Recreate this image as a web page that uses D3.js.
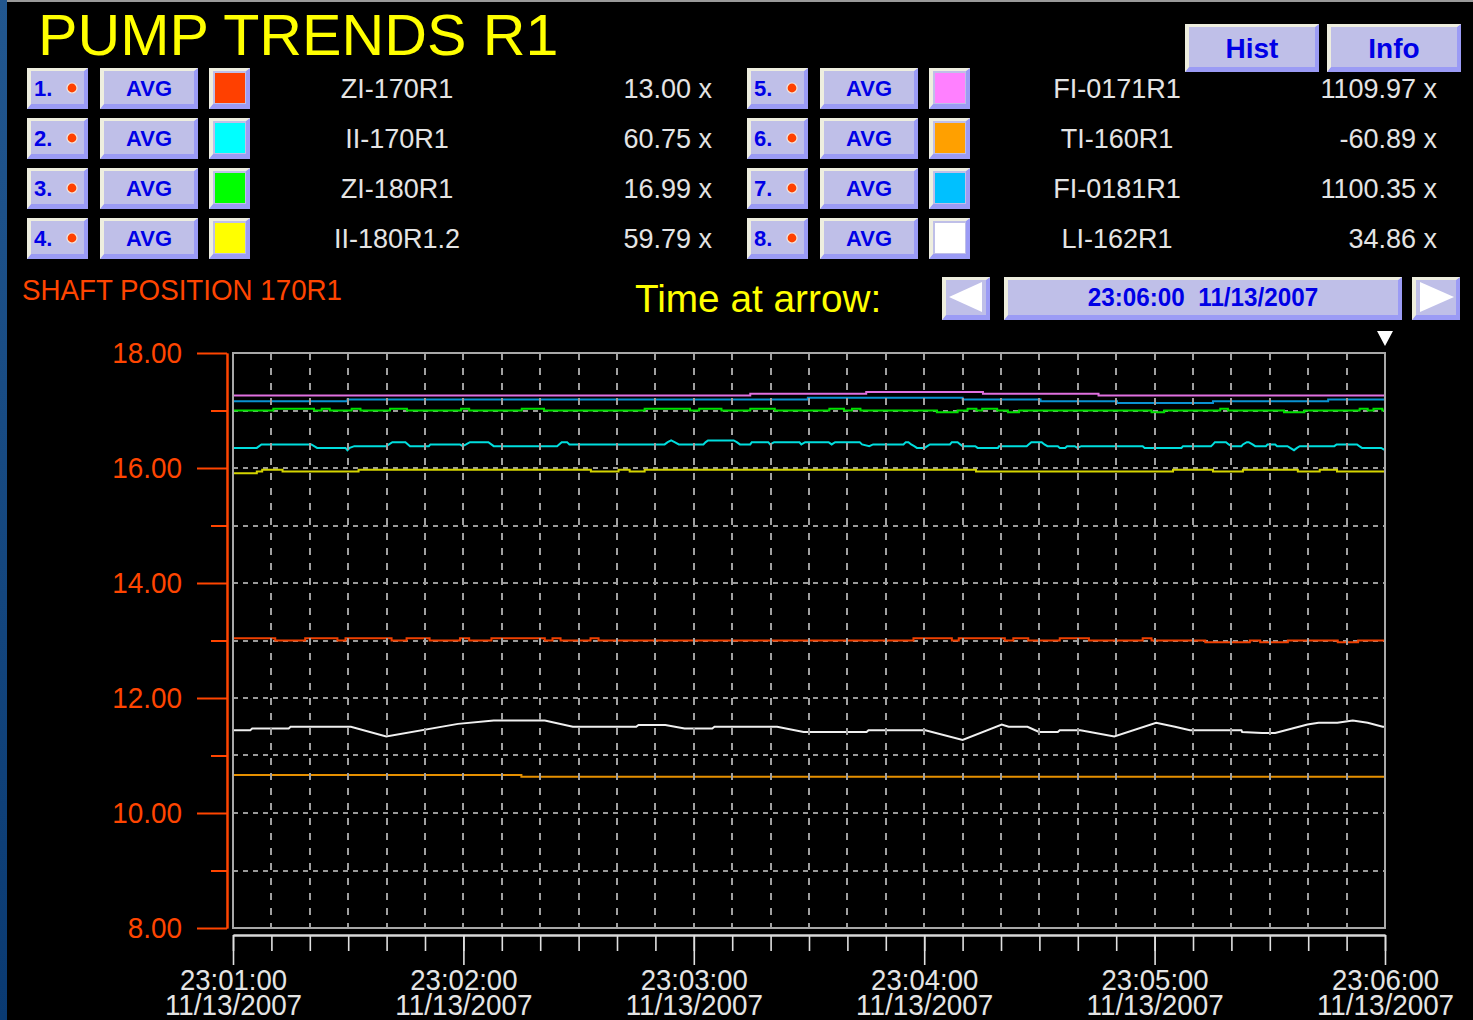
<!DOCTYPE html>
<html>
<head>
<meta charset="utf-8">
<title>PUMP TRENDS R1</title>
<script src="https://cdn.jsdelivr.net/npm/d3@7"></script>
<style>
  html, body { margin: 0; padding: 0; background: #000; overflow: hidden; }
  svg { display: block; }
  text { font-family: "Liberation Sans", Arial, sans-serif; white-space: pre; }
</style>
</head>
<body>
<div id="chart"></div>
<script>
// - - - - - - - - - -
// data
const tagNames = ['ZI-170R1', 'II-170R1', 'ZI-180R1', 'II-180R1.2', 'FI-0171R1', 'TI-160R1', 'FI-0181R1', 'LI-162R1'];
const tagValues = ['13.00', '60.75', '16.99', '59.79', '1109.97', '-60.89', '1100.35', '34.86'];
const swatchColors = ['#ff4000', '#00ffff', '#00ff00', '#ffff00', '#ff80ff', '#ffa000', '#00c0ff', '#ffffff'];
const lineColors = ['#f04000', '#00dede', '#00e000', '#d4d400', '#e070e0', '#e69000', '#0a92d2', '#f0f0f0'];
const lineCurves = ['step', 'linear', 'step', 'step', 'step', 'step', 'step', 'linear'];
const axisTitle = 'SHAFT POSITION 170R1';
const startTime = '2007-11-13 23:01:00';
const endTime = '2007-11-13 23:06:00';
const arrowTime = '23:06:00  11/13/2007';
const yDomain = [8, 18];

// samples: [seconds after 23:01:00, value on the 170R1 axis]
const zi170r1 = [[0, 13.04], [11, 13.0], [18.8, 13.04], [27.2, 13.0], [29.3, 13.04], [41.3, 13.0], [45.2, 13.04], [51.2, 13.0],
  [59.1, 13.04], [61.5, 13.0], [67.3, 13.04], [81.2, 13.0], [83.2, 13.04], [85.3, 13.0], [93.1, 13.04], [95.2, 13.0],
  [177.2, 13.04], [187.2, 13.0], [189, 13.04], [201, 13.0], [203.2, 13.04], [207.1, 13.0], [215.3, 13.04], [222.9, 13.0],
  [236.9, 13.04], [239.2, 13.0], [253.2, 12.97], [264.8, 13.0], [267.5, 12.97], [274.7, 13.0], [287.7, 12.97], [293, 13.0], [300, 13.0]];
const ii170r1 = [[0, 16.35], [6.2, 16.35], [7.4, 16.41], [20.4, 16.41], [21.9, 16.35], [29.3, 16.35], [29.8, 16.31], [30.4, 16.35],
  [31.6, 16.38], [39.9, 16.38], [41.5, 16.45], [44.9, 16.45], [46.1, 16.38], [51, 16.38], [51.4, 16.41], [59.1, 16.41],
  [59.8, 16.38], [60.7, 16.41], [61.7, 16.45], [66.5, 16.45], [67.9, 16.38], [84.4, 16.38], [85.6, 16.45], [87, 16.45],
  [87.6, 16.41], [112.4, 16.41], [113.2, 16.45], [114.1, 16.48], [115, 16.45], [116.1, 16.41], [122.5, 16.41], [123.1, 16.45],
  [123.7, 16.48], [130.4, 16.48], [131.2, 16.45], [132, 16.41], [134.7, 16.41], [135.1, 16.45], [139.4, 16.45], [139.9, 16.41],
  [140.9, 16.45], [147.5, 16.45], [148, 16.41], [149, 16.45], [155.1, 16.45], [155.9, 16.41], [156.8, 16.45], [163.2, 16.45],
  [163.8, 16.41], [165.7, 16.38], [166.7, 16.41], [174.6, 16.41], [175.2, 16.45], [175.9, 16.45], [176.6, 16.41], [177.4, 16.38],
  [178.1, 16.35], [180.1, 16.35], [180.8, 16.38], [181.5, 16.41], [186.7, 16.41], [187.2, 16.45], [188.7, 16.45], [189.4, 16.41],
  [190, 16.38], [193.3, 16.38], [193.9, 16.35], [199.2, 16.35], [199.5, 16.38], [206.7, 16.38], [207.2, 16.41], [207.9, 16.45],
  [210.6, 16.45], [211.3, 16.41], [212.1, 16.38], [214.8, 16.38], [215.3, 16.35], [216.7, 16.35], [217.2, 16.38], [219.2, 16.38],
  [219.9, 16.35], [220.9, 16.38], [236.9, 16.38], [237.4, 16.35], [247, 16.35], [247.4, 16.38], [254.7, 16.38], [255.2, 16.41],
  [255.7, 16.45], [258.6, 16.45], [259.3, 16.41], [260.1, 16.38], [262.6, 16.38], [263, 16.41], [264, 16.45], [264.5, 16.45],
  [265.5, 16.41], [266.2, 16.38], [269, 16.38], [269.4, 16.41], [271.4, 16.41], [271.9, 16.38], [274.6, 16.38], [275.3, 16.35],
  [276.3, 16.31], [277.1, 16.35], [277.8, 16.38], [286.8, 16.38], [287.4, 16.41], [292.7, 16.41], [293.3, 16.38], [294, 16.35],
  [299, 16.35], [300, 16.31]];
const zi180r1 = [[0, 17.0], [10.5, 17.03], [21.1, 17.0], [23.1, 17.03], [25.2, 17.0], [30.9, 17.03], [33.2, 17.0], [40.9, 17.03],
  [45.3, 17.0], [59.4, 17.03], [61.5, 17.0], [75.2, 17.03], [81, 17.0], [107.2, 17.03], [119, 17.0], [121.4, 17.03],
  [127.2, 17.0], [134.7, 17.03], [141.1, 17.0], [155.3, 17.03], [159.1, 17.0], [161.2, 17.03], [163.4, 17.0], [183.3, 16.97],
  [188.7, 17.0], [191.3, 17.03], [193.6, 17.0], [195.1, 17.03], [199, 17.0], [201.8, 16.97], [204.7, 17.0], [239.2, 16.97],
  [242.5, 17.0], [257.1, 17.03], [259.1, 17.0], [273.7, 16.97], [279, 17.0], [293.4, 17.03], [295.5, 17.0], [297, 17.03],
  [299.3, 17.0], [300, 17.0]];
const ii180r12 = [[0, 15.91], [6.2, 15.94], [7.6, 15.97], [12.9, 15.94], [32.7, 15.97], [93.2, 15.94], [100.4, 15.97], [103.3, 15.94],
  [107.2, 15.97], [193.5, 15.94], [244.8, 15.97], [255.2, 15.94], [263, 15.97], [277.3, 15.94], [283, 15.97], [287.5, 15.94], [300, 15.94]];
const fi0171r1 = [[0, 17.26], [134.7, 17.29], [164.9, 17.32], [195.3, 17.29], [225.4, 17.26], [300, 17.26]];
const ti160r1 = [[0, 10.66], [75.1, 10.63], [300, 10.63]];
const fi0181r1 = [[0, 17.16], [29.8, 17.19], [149.7, 17.22], [190, 17.19], [210.3, 17.16], [230.2, 17.13], [255.2, 17.16],
  [285.2, 17.19], [300, 17.19]];
const li162r1 = [[0, 11.44], [4.5, 11.44], [5, 11.47], [14.5, 11.47], [15, 11.5], [30.7, 11.5], [39.9, 11.33], [58.6, 11.55],
  [67.9, 11.61], [81.2, 11.61], [88.5, 11.5], [105, 11.5], [105.6, 11.53], [112.6, 11.53], [117.6, 11.47], [124.8, 11.47],
  [125.4, 11.5], [141.7, 11.5], [148.6, 11.41], [165, 11.41], [165.5, 11.44], [180.3, 11.44], [190, 11.27], [200.2, 11.54],
  [202, 11.5], [206.9, 11.5], [209.9, 11.41], [214.8, 11.41], [215.3, 11.44], [220.7, 11.44], [229.5, 11.33], [240.4, 11.57],
  [245.3, 11.5], [249.2, 11.44], [262.6, 11.44], [262.8, 11.41], [268, 11.39], [271.4, 11.39], [279.8, 11.54], [282.7, 11.57],
  [287.6, 11.57], [291.6, 11.61], [295.5, 11.57], [299.4, 11.5], [300, 11.5]];
const seriesData = [zi170r1, ii170r1, zi180r1, ii180r12, fi0171r1, ti160r1, fi0181r1, li162r1];

!(function () {
  'use strict';
  // - - - - - - - - - -
  // declaration
  let
    svg = undefined,
    xScale = undefined,
    yScale = undefined,
    t0 = undefined,
    t1 = undefined,
    canvas = undefined,
    plot = undefined,
    btn = undefined,
    font = undefined,

    label = undefined,
    bevel = undefined,
    setCanvas = undefined,
    setHeader = undefined,
    setLegend = undefined,
    setTimeBar = undefined,
    setScales = undefined,
    setGrid = undefined,
    setSeries = undefined,
    setYAxis = undefined,
    setXAxis = undefined;

  canvas = { width: 1473, height: 1020 };
  plot = { left: 233, right: 1385, top: 353, bottom: 928 };
  btn = { face: '#bfbfe8', light: '#eeeedf', dark: '#9b9bf5', text: '#0000e6' };
  font = { red: '#ff4500', white: '#e4e4e4', yellow: '#ffff00' };

  // helpers
  label = function (parent, x, y, str, o) {
    return parent.append('text')
      .attr('transform', 'translate(' + x + ',' + y + ') scale(' + (o.sx || 1) + ',1)')
      .attr('text-anchor', o.anchor || 'start')
      .attr('font-size', o.size)
      .attr('font-weight', o.weight || 'normal')
      .attr('fill', o.fill)
      .text(str);
  };

  bevel = function (parent, x, y, w, h) {
    let g = parent.append('g');
    g.append('rect').attr('x', x).attr('y', y).attr('width', w).attr('height', h).attr('fill', btn.face);
    g.append('path')
      .attr('d', 'M' + (x + w) + ',' + y + 'V' + (y + h) + 'H' + x + 'L' + (x + 4) + ',' + (y + h - 5) +
        'H' + (x + w - 4) + 'V' + (y + 3) + 'Z')
      .attr('fill', btn.dark);
    g.append('path')
      .attr('d', 'M' + x + ',' + (y + h) + 'V' + y + 'H' + (x + w) + 'L' + (x + w - 4) + ',' + (y + 3) +
        'H' + (x + 4) + 'V' + (y + h - 5) + 'Z')
      .attr('fill', btn.light);
    return g;
  };

  // methods
  setCanvas = function (contextSelector) {
    svg = d3.select(contextSelector)
      .append('svg')
      .attr('width', canvas.width)
      .attr('height', canvas.height);

    let grad = svg.append('defs').append('linearGradient')
      .attr('id', 'edge').attr('x1', 0).attr('y1', 0).attr('x2', 0).attr('y2', 1);
    grad.append('stop').attr('offset', '0%').attr('stop-color', '#22578f');
    grad.append('stop').attr('offset', '100%').attr('stop-color', '#0a3a72');

    svg.append('rect').attr('width', canvas.width).attr('height', canvas.height).attr('fill', '#000');
    svg.append('rect').attr('width', 7).attr('height', canvas.height).attr('fill', 'url(#edge)');
    svg.append('rect').attr('x', 7).attr('width', canvas.width).attr('height', 2).attr('fill', '#9a9a9a');
  };

  setHeader = function () {
    label(svg, 38, 55, 'PUMP TRENDS R1', { size: 58, sx: 1.02, fill: font.yellow });

    [['Hist', 1185], ['Info', 1327]].forEach(function (b) {
      bevel(svg, b[1], 24, 134, 48);
      label(svg, b[1] + 67, 58, b[0], { size: 28, weight: 'bold', fill: btn.text, anchor: 'middle' });
    });
  };

  setLegend = function () {
    tagNames.forEach(function (name, i) {
      let
        col = Math.floor(i / 4),
        dx = col * 720,
        cy = 88 + (i % 4) * 50,
        g = svg.append('g');

      bevel(g, 27 + dx, cy - 20, 61, 41);
      label(g, 34 + dx, cy + 8, (i + 1) + '.', { size: 22, weight: 'bold', fill: btn.text });
      g.append('circle').attr('cx', 72 + dx).attr('cy', cy).attr('r', 5)
        .attr('fill', '#ff4000').attr('stroke', '#f4e6dc').attr('stroke-width', 1.2);

      bevel(g, 100 + dx, cy - 20, 98, 41);
      label(g, 149 + dx, cy + 8, 'AVG', { size: 22, weight: 'bold', fill: btn.text, anchor: 'middle' });

      bevel(g, 209 + dx, cy - 20, 41, 41);
      g.append('rect').attr('x', 215 + dx).attr('y', cy - 15).attr('width', 30).attr('height', 30)
        .attr('fill', swatchColors[i]);

      label(g, 397 + dx, cy + 10, name, { size: 27, fill: font.white, anchor: 'middle' });
      label(g, 712 + dx + col * 5, cy + 10, tagValues[i] + ' x', { size: 27, fill: font.white, anchor: 'end' });
    });

    label(svg, 22, 300, axisTitle, { size: 30, sx: 0.925, fill: font.red });
  };

  setTimeBar = function () {
    label(svg, 635, 312, 'Time at arrow:', { size: 38, sx: 1.02, fill: font.yellow });

    bevel(svg, 942, 277, 48, 43);
    svg.append('path').attr('d', 'M949,297L982,282V312Z').attr('fill', '#ffffff');
    bevel(svg, 1004, 277, 398, 43);
    label(svg, 1203, 306, arrowTime, { size: 25, weight: 'bold', fill: btn.text, anchor: 'middle', sx: 0.97 });
    bevel(svg, 1412, 277, 48, 43);
    svg.append('path').attr('d', 'M1454,297L1420,282V312Z').attr('fill', '#ffffff');
  };

  setScales = function () {
    let parse = d3.timeParse('%Y-%m-%d %H:%M:%S');
    t0 = parse(startTime);
    t1 = parse(endTime);
    xScale = d3.scaleTime().domain([t0, t1]).range([plot.left, plot.right]);
    yScale = d3.scaleLinear().domain(yDomain).range([plot.bottom, plot.top]);
  };

  setGrid = function (layer) {
    if (layer === 'h') {
      svg.append('g')
        .selectAll('line')
        .data(yScale.ticks(10).filter(function (v) { return v > yDomain[0] && v < yDomain[1]; }))
        .join('line')
        .attr('x1', plot.left).attr('x2', plot.right)
        .attr('y1', function (d) { return Math.round(yScale(d)); })
        .attr('y2', function (d) { return Math.round(yScale(d)); })
        .attr('stroke', '#9a9a9a').attr('stroke-width', 2)
        .attr('stroke-dasharray', '5,5')
        .attr('shape-rendering', 'crispEdges');
      return;
    }
    svg.append('g')
      .selectAll('line')
      .data(xScale.ticks(d3.timeSecond.every(10)).slice(1, -1))
      .join('line')
      .attr('x1', function (d) { return Math.round(xScale(d)); })
      .attr('x2', function (d) { return Math.round(xScale(d)); })
      .attr('y1', plot.top).attr('y2', plot.bottom)
      .attr('stroke', '#a0a0a0').attr('stroke-width', 1.5)
      .attr('stroke-dasharray', '7,8')
      .attr('shape-rendering', 'crispEdges');
  };

  setSeries = function () {
    svg.append('clipPath').attr('id', 'plotclip')
      .append('rect').attr('x', plot.left).attr('y', plot.top)
      .attr('width', plot.right - plot.left).attr('height', plot.bottom - plot.top);

    let g = svg.append('g').attr('clip-path', 'url(#plotclip)');
    seriesData.forEach(function (pts, i) {
      let line = d3.line()
        .x(function (d) { return xScale(new Date(t0.getTime() + d[0] * 1000)); })
        .y(function (d) { return yScale(d[1]); })
        .curve(lineCurves[i] === 'step' ? d3.curveStepAfter : d3.curveLinear);
      g.append('path')
        .attr('d', line(pts))
        .attr('fill', 'none')
        .attr('stroke', lineColors[i])
        .attr('stroke-width', 2);
    });
  };

  setYAxis = function () {
    let tx = plot.left - 6;
    let major = svg.append('g')
      .attr('transform', 'translate(' + tx + ',0)')
      .call(d3.axisLeft(yScale).tickValues(d3.range(yDomain[0], yDomain[1] + 1, 2))
        .tickSize(30).tickSizeOuter(0).tickFormat(d3.format('.2f')));
    let minor = svg.append('g')
      .attr('transform', 'translate(' + tx + ',0)')
      .call(d3.axisLeft(yScale).tickValues(d3.range(yDomain[0] + 1, yDomain[1], 2))
        .tickSize(16).tickSizeOuter(0).tickFormat(''));
    [major, minor].forEach(function (ax) {
      ax.select('.domain').attr('stroke', font.red).attr('stroke-width', 2);
      ax.selectAll('.tick line').attr('stroke', font.red).attr('stroke-width', 2);
    });
    major.selectAll('.tick text')
      .attr('x', null)
      .attr('transform', 'translate(-45,0) scale(0.93,1)')
      .attr('font-size', 30)
      .attr('font-family', null)
      .attr('fill', font.red);
  };

  setXAxis = function () {
    let ty = plot.bottom + 7;
    let fmtT = d3.timeFormat('%H:%M:%S'),
      fmtD = d3.timeFormat('%m/%d/%Y');
    let minor = svg.append('g')
      .attr('transform', 'translate(0,' + ty + ')')
      .call(d3.axisBottom(xScale).ticks(d3.timeSecond.every(10)).tickSize(16).tickSizeOuter(0).tickFormat(''));
    let major = svg.append('g')
      .attr('transform', 'translate(0,' + ty + ')')
      .call(d3.axisBottom(xScale).ticks(d3.timeMinute.every(1)).tickSize(30).tickSizeOuter(0).tickFormat(''));
    [minor, major].forEach(function (ax) {
      ax.select('.domain').attr('stroke', '#d8d8d8').attr('stroke-width', 2);
      ax.selectAll('.tick line').attr('stroke', '#e0e0e0').attr('stroke-width', 1.6);
    });
    major.selectAll('.tick').each(function (d) {
      let t = d3.select(this);
      label(t, 0, 55, fmtT(d), { size: 29, sx: 0.95, fill: font.white, anchor: 'middle' });
      label(t, 0, 80, fmtD(d), { size: 29, sx: 0.96, fill: font.white, anchor: 'middle' });
    });
  };

  // control
  setCanvas('#chart');
  setHeader();
  setLegend();
  setTimeBar();
  setScales();
  setGrid('h');
  setSeries();
  setGrid('v');

  svg.append('rect')
    .attr('x', plot.left).attr('y', plot.top)
    .attr('width', plot.right - plot.left).attr('height', plot.bottom - plot.top)
    .attr('fill', 'none').attr('stroke', '#a8a8a8').attr('stroke-width', 2);

  svg.append('path')
    .attr('d', 'M' + (xScale(t1) - 8) + ',' + (plot.top - 22) + 'h16l-8,15Z')
    .attr('fill', '#ffffff');

  setYAxis();
  setXAxis();
  // - - - - - - - - - -
}());
</script>
</body>
</html>
